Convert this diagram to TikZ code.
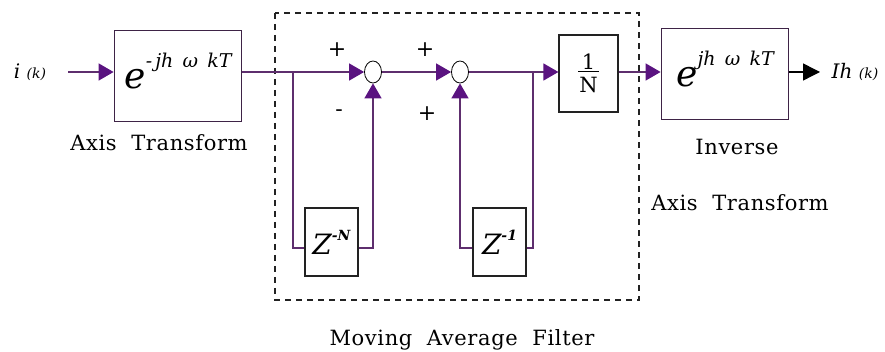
\documentclass[tikz,border=0pt]{standalone}
\usepackage{fontspec}
\setmainfont{DejaVu Serif}
\usepackage{tikz}
\usetikzlibrary{arrows.meta, shapes.geometric}
\definecolor{WirePurple}{HTML}{5E2E6E}
\definecolor{TipPurple}{HTML}{5A1380}
\definecolor{BoxEdge}{HTML}{3E2346}
\definecolor{FrameGray}{HTML}{222222}

\newcommand{\expo}[2]{{\fontsize{36}{38}\selectfont\itshape e}%
  \raisebox{21pt}{\fontsize{19}{21}\selectfont\itshape #1}#2}
\newcommand{\delayz}[1]{{\fontsize{28}{30}\selectfont\itshape Z}%
  \raisebox{14pt}{\fontsize{14}{16}\selectfont\bfseries\itshape #1}}

\tikzset{
  wire/.style={draw=WirePurple, line width=1.4pt,
    -{Triangle[length=15pt,width=17pt,color=TipPurple]}},
  plainwire/.style={draw=WirePurple, line width=1.4pt},
  outwire/.style={draw=black, line width=1.4pt,
    -{Triangle[length=17pt,width=17pt,color=black]}},
  bigbox/.style={draw=BoxEdge, line width=1.8pt, inner sep=0pt,
    minimum width=127pt, minimum height=91pt,
    text height=58pt, text depth=33pt},
  delaybox/.style={draw=FrameGray, line width=1.2pt, inner sep=0pt,
    minimum width=53pt, minimum height=68pt},
  sumnode/.style={ellipse, draw=black, line width=0.8pt, fill=white,
    inner sep=0pt, minimum width=17pt, minimum height=22pt},
  caption/.style={inner sep=0pt,
    font=\fontsize{21}{25}\selectfont\addfontfeatures{LetterSpace=3}},
  sign/.style={inner sep=0pt, font=\fontsize{22}{26}\selectfont}
}

\begin{document}
\begin{tikzpicture}[x=1pt, y=-1pt]
\useasboundingbox (0,0) rectangle (885,352);

% moving average filter frame
\draw[FrameGray, line width=1.3pt, dash pattern=on 6pt off 5pt] (275,13) rectangle (639,300);

% blocks
\node[bigbox] (fwd) at (178,76) {\expo{-\,jh\,\ ω\,\ kT}{}};
\node[bigbox] (inv) at (725,74) {\expo{jh\,\ ω\,\ kT}{\hspace{14pt}}};
\node[sumnode] (sumA) at (373,72) {};
\node[sumnode] (sumB) at (460,72) {};
\node[delaybox, minimum width=59pt, minimum height=77pt, align=center,
  font=\fontsize{21}{25}\selectfont] (avg) at (588.5,73.5)
  {\underline{\,1\,}\\[-2pt]N};
\node[delaybox] (zN) at (331.5,242) {\delayz{-N}};
\node[delaybox] (zOne) at (499.5,242) {\delayz{-1}};

% signals in and out
\node[inner sep=0pt] (in) at (30,72)
  {\fontsize{20}{22}\selectfont\itshape i \fontsize{14}{16}\selectfont(k)};
\node[inner sep=0pt] (out) at (855,72)
  {\fontsize{20}{22}\selectfont\itshape Ih \fontsize{14}{16}\selectfont(k)};
\coordinate (inStart) at (68,72);
\coordinate (outEnd) at (820,72);
\coordinate (brA) at (293,72);
\coordinate (brB) at (533,72);

% texts
\node[caption] (lblFwd) at (159,143) {Axis\ \ Transform};
\node[caption] (lblInvA) at (737,147) {Inverse};
\node[caption] (lblInvB) at (740,203) {Axis\ \ Transform};
\node[caption] (lblFilter) at (462,340) {Moving\ \ Average\ \ Filter};
\node[sign] (plusA) at (337,50) {+};
\node[sign] (minusA) at (339,113) {-};
\node[sign] (plusB) at (425,50) {+};
\node[sign] (plusC) at (427,114) {+};

% connectors
\draw[wire] (inStart) -- (inStart -| fwd.west);
\draw[wire] (fwd.east |- sumA) -- (sumA.west);
\draw[plainwire] (brA) |- ([yshift=-6pt]zN.west);
\draw[wire] ([yshift=-6pt]zN.east) -| (sumA.south);
\draw[wire] (sumA.east) -- (sumB.west);
\draw[wire] (sumB.east) -- (sumB -| avg.west);
\draw[plainwire] (brB) |- ([yshift=-6pt]zOne.east);
\draw[wire] ([yshift=-6pt]zOne.west) -| (sumB.south);
\draw[wire] (avg.east |- sumB) -- (sumB -| inv.west);
\draw[outwire] (inv.east |- sumB) -- (outEnd);
\end{tikzpicture}
\end{document}
